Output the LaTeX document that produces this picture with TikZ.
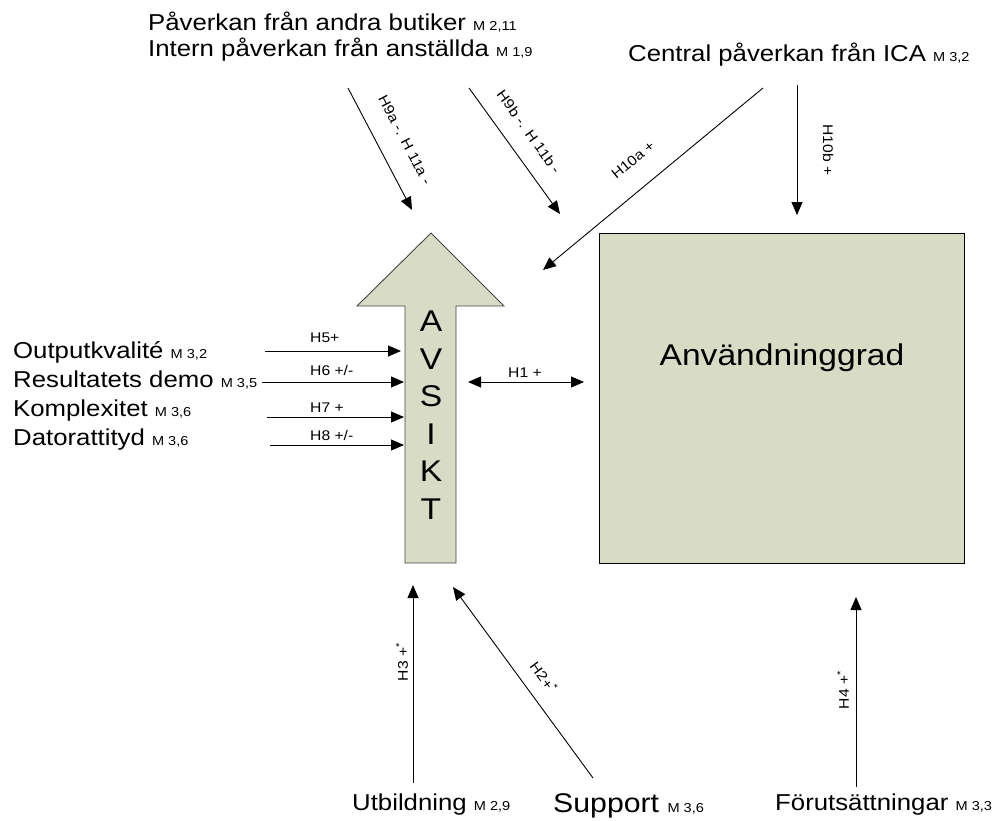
\documentclass[tikz,border=0pt]{standalone}
\usepackage{fontspec}
\setmainfont{Liberation Sans}[FakeStretch=1.12]
\usetikzlibrary{arrows.meta}
\definecolor{sage}{RGB}{216,220,196}
\definecolor{edgegrey}{RGB}{70,70,70}
\newcommand\msz[1]{{\fontsize{13}{15}\selectfont #1}}
\tikzset{
  conn/.style={line width=0.9pt, draw=black, -{Triangle[length=13pt,width=11pt]}},
  dconn/.style={line width=0.9pt, draw=black, {Triangle[length=13pt,width=11pt]}-{Triangle[length=13pt,width=11pt]}},
  bigtxt/.style={font=\fontsize{23}{27}\selectfont, inner sep=0pt},
  lbl/.style={font=\fontsize{14}{16}\selectfont, inner sep=0pt},
  boxsty/.style={draw=black, line width=1.4pt, fill=sage},
}
\begin{document}
\begin{tikzpicture}[x=1pt,y=-1pt]
\useasboundingbox (0,0) rectangle (995,820);

% AVSIKT arrow shape
\draw[draw=edgegrey, line width=0.9pt, fill=sage]
  (431,233) -- (504,306) -- (456,306) -- (456,563) -- (405,563) -- (405,306) -- (357,306) -- cycle;
\node[font=\fontsize{30}{37.5}\selectfont, align=center, inner sep=0pt] (avsikt) at (431,415) {A\\V\\S\\I\\K\\T};

% Anvandninggrad box
\node[boxsty, minimum width=365pt, minimum height=330pt, anchor=north west, inner sep=0pt] (ag) at (599,233) {};
\node[font=\fontsize{30}{34}\selectfont, anchor=base, inner sep=0pt] (agt) at (782,365) {Användninggrad};

% top texts
\node[bigtxt, anchor=base west] (pab) at (148,30) {Påverkan från andra butiker \msz{M 2,11}};
\node[bigtxt, anchor=base west] (ipa) at (148,56) {Intern påverkan från anställda \msz{M 1,9}};
\node[bigtxt, anchor=base west] (cpi) at (628,61) {Central påverkan från ICA \msz{M 3,2}};

% left texts
\node[bigtxt, anchor=base west] (out) at (13,358) {Outputkvalité \msz{M 3,2}};
\node[bigtxt, anchor=base west] (res) at (13,387) {Resultatets demo \msz{M 3,5}};
\node[bigtxt, anchor=base west] (kom) at (13,416) {Komplexitet \msz{M 3,6}};
\node[bigtxt, anchor=base west] (dat) at (13,445) {Datorattityd \msz{M 3,6}};

% bottom texts
\node[bigtxt, anchor=base west] (utb) at (352,810) {Utbildning \msz{M 2,9}};
\node[font=\fontsize{27}{30}\selectfont, inner sep=0pt, anchor=base west] (sup) at (553,812) {Support \msz{M 3,6}};
\node[bigtxt, anchor=base west] (for) at (775,810) {Förutsättningar \msz{M 3,3}};

% coordinates for connector ends
\coordinate (h9as) at (348,88);  \coordinate (h9ae) at (412,210);
\coordinate (h9bs) at (469,88);  \coordinate (h9be) at (560,214);
\coordinate (h10as) at (763,88); \coordinate (h10ae) at (543,270);
\coordinate (h10bs) at (797,85); \coordinate (h10be) at (797,215);
\coordinate (h5s) at (265,351);  \coordinate (h5e) at (401,351);
\coordinate (h6s) at (262,382);  \coordinate (h6e) at (404,382);
\coordinate (h7s) at (267,417);  \coordinate (h7e) at (404,417);
\coordinate (h8s) at (270,445);  \coordinate (h8e) at (404,445);
\coordinate (h1s) at (468,382);  \coordinate (h1e) at (584,382);
\coordinate (h3s) at (413,783);  \coordinate (h3e) at (413,585);
\coordinate (h2s) at (593,778);  \coordinate (h2e) at (453,587);
\coordinate (h4s) at (856,787);  \coordinate (h4e) at (856,597);

% connectors
\draw[conn] (h9as) -- (h9ae);
\draw[conn] (h9bs) -- (h9be);
\draw[conn] (h10as) -- (h10ae);
\draw[conn] (h10bs) -- (h10be);
\draw[conn] (h5s) -- (h5e);
\draw[conn] (h6s) -- (h6e);
\draw[conn] (h7s) -- (h7e);
\draw[conn] (h8s) -- (h8e);
\draw[dconn] (h1s) -- (h1e);
\draw[conn] (h3s) -- (h3e);
\draw[conn] (h2s) -- (h2e);
\draw[conn] (h4s) -- (h4e);

% connector labels
\node[lbl, rotate=-62.3] (l9a) at (405,140) {H9a -. H 11a -};
\node[lbl, rotate=-54.4] (l9b) at (529,132) {H9b -. H 11b -};
\node[lbl, rotate=39.6] (l10a) at (633,160) {H10a +};
\node[lbl, rotate=-90] (l10b) at (828,150) {H10b +};
\node[lbl, anchor=base west] (l5) at (310,342) {H5+};
\node[lbl, anchor=base west] (l6) at (310,375) {H6 +/-};
\node[lbl, anchor=base west] (l7) at (310,412) {H7 +};
\node[lbl, anchor=base west] (l8) at (310,440) {H8 +/-};
\node[lbl, anchor=base] (l1) at (525,377) {H1 +};
\node[lbl, rotate=90] (l3) at (402,662) {H3 +\textsuperscript{*}};
\node[lbl, rotate=-53.8] (l2) at (544,677) {H2+\textsuperscript{*}};
\node[lbl, rotate=90] (l4) at (843,690) {H4 +\textsuperscript{*}};
\end{tikzpicture}
\end{document}
